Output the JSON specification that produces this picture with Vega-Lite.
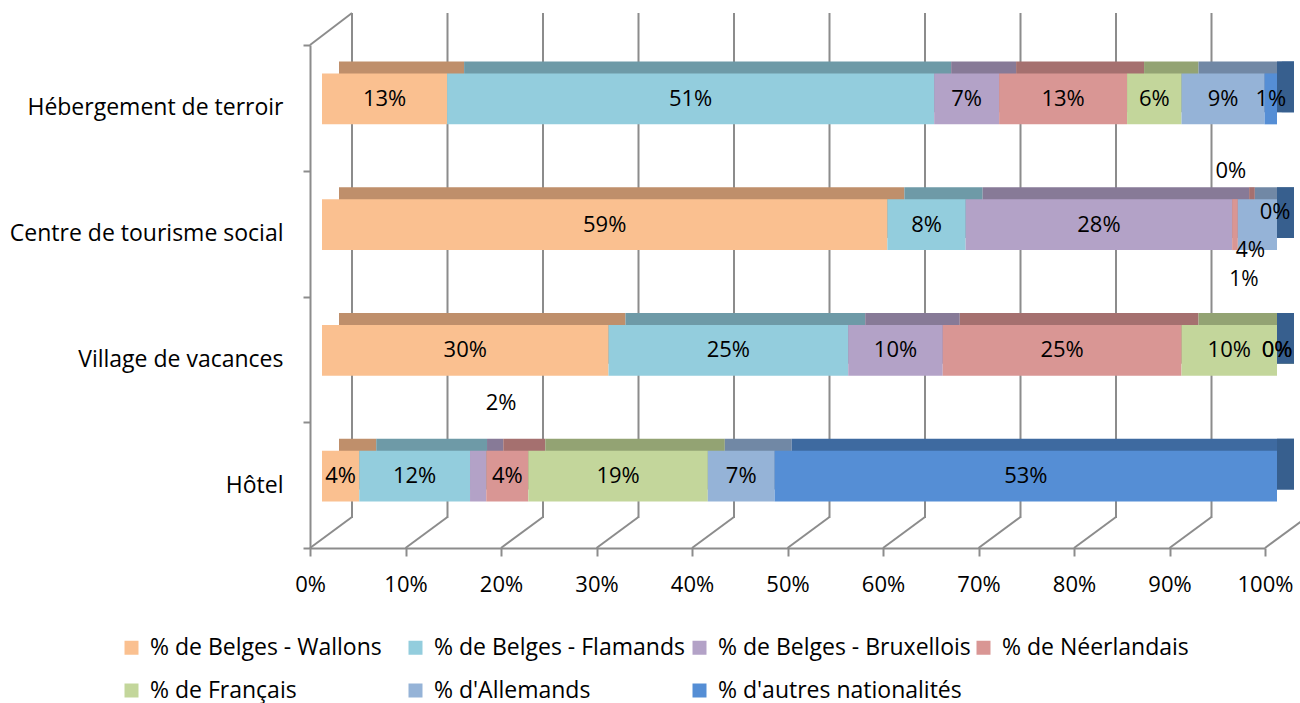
{
  "$schema": "https://vega.github.io/schema/vega-lite/v6.json",
  "width": 955,
  "height": 503,
  "autosize": {"type": "none"},
  "padding": {"left": 310, "top": 45, "right": 35, "bottom": 155},
  "background": "white",
  "config": {
    "view": {"stroke": null},
    "font": "Open Sans",
    "text": {"font": "Open Sans"},
    "axisX": {"domainColor": "#8C8C8C", "domainWidth": 2, "tickColor": "#8C8C8C", "tickWidth": 2, "tickSize": 8, "labelFontSize": 22, "labelFont": "Open Sans", "labelColor": "black", "labelPadding": 18, "labelFlush": false, "grid": false},
    "axisY": {"domainColor": "#8C8C8C", "domainWidth": 2, "tickColor": "#8C8C8C", "tickWidth": 2, "tickSize": 7, "labelFontSize": 23, "labelFont": "Open Sans", "labelColor": "black", "labelPadding": 20, "labelLimit": 400, "grid": false, "tickBand": "extent"}
  },
  "datasets": {
    "shares": [
      {"cat": "Hébergement de terroir", "serie": "% de Belges - Wallons", "k": 1, "v": 0.131},
      {"cat": "Hébergement de terroir", "serie": "% de Belges - Flamands", "k": 2, "v": 0.510},
      {"cat": "Hébergement de terroir", "serie": "% de Belges - Bruxellois", "k": 3, "v": 0.068},
      {"cat": "Hébergement de terroir", "serie": "% de Néerlandais", "k": 4, "v": 0.134},
      {"cat": "Hébergement de terroir", "serie": "% de Français", "k": 5, "v": 0.057},
      {"cat": "Hébergement de terroir", "serie": "% d'Allemands", "k": 6, "v": 0.087},
      {"cat": "Hébergement de terroir", "serie": "% d'autres nationalités", "k": 7, "v": 0.013},
      {"cat": "Centre de tourisme social", "serie": "% de Belges - Wallons", "k": 1, "v": 0.592},
      {"cat": "Centre de tourisme social", "serie": "% de Belges - Flamands", "k": 2, "v": 0.082},
      {"cat": "Centre de tourisme social", "serie": "% de Belges - Bruxellois", "k": 3, "v": 0.279},
      {"cat": "Centre de tourisme social", "serie": "% de Néerlandais", "k": 4, "v": 0.006},
      {"cat": "Centre de tourisme social", "serie": "% de Français", "k": 5, "v": 0.0},
      {"cat": "Centre de tourisme social", "serie": "% d'Allemands", "k": 6, "v": 0.041},
      {"cat": "Centre de tourisme social", "serie": "% d'autres nationalités", "k": 7, "v": 0.0},
      {"cat": "Village de vacances", "serie": "% de Belges - Wallons", "k": 1, "v": 0.300},
      {"cat": "Village de vacances", "serie": "% de Belges - Flamands", "k": 2, "v": 0.251},
      {"cat": "Village de vacances", "serie": "% de Belges - Bruxellois", "k": 3, "v": 0.099},
      {"cat": "Village de vacances", "serie": "% de Néerlandais", "k": 4, "v": 0.250},
      {"cat": "Village de vacances", "serie": "% de Français", "k": 5, "v": 0.100},
      {"cat": "Village de vacances", "serie": "% d'Allemands", "k": 6, "v": 0.0},
      {"cat": "Village de vacances", "serie": "% d'autres nationalités", "k": 7, "v": 0.0},
      {"cat": "Hôtel", "serie": "% de Belges - Wallons", "k": 1, "v": 0.039},
      {"cat": "Hôtel", "serie": "% de Belges - Flamands", "k": 2, "v": 0.116},
      {"cat": "Hôtel", "serie": "% de Belges - Bruxellois", "k": 3, "v": 0.017},
      {"cat": "Hôtel", "serie": "% de Néerlandais", "k": 4, "v": 0.044},
      {"cat": "Hôtel", "serie": "% de Français", "k": 5, "v": 0.188},
      {"cat": "Hôtel", "serie": "% d'Allemands", "k": 6, "v": 0.070},
      {"cat": "Hôtel", "serie": "% d'autres nationalités", "k": 7, "v": 0.526}
    ],
    "grid": [
      {"g": 0}, {"g": 0.1}, {"g": 0.2}, {"g": 0.3}, {"g": 0.4}, {"g": 0.5},
      {"g": 0.6}, {"g": 0.7}, {"g": 0.8}, {"g": 0.9}, {"g": 1}
    ]
  },
  "resolve": {"scale": {"y": "independent"}},
  "layer": [
    {
      "data": {"name": "grid"},
      "layer": [
        {
          "mark": {"type": "rule", "color": "#8C8C8C", "strokeWidth": 2, "xOffset": 42, "yOffset": -30, "y2Offset": -32},
          "encoding": {
            "x": {"field": "g", "type": "quantitative", "title": null, "axis": {"format": ".0%", "values": [0, 0.1, 0.2, 0.3, 0.4, 0.5, 0.6, 0.7, 0.8, 0.9, 1]}},
            "y": {"datum": 0, "type": "quantitative", "scale": {"domain": [0, 1]}, "axis": null},
            "y2": {"datum": 1}
          }
        },
        {
          "mark": {"type": "rule", "color": "#8C8C8C", "strokeWidth": 2, "x2Offset": 42, "y2Offset": -31},
          "encoding": {
            "x": {"field": "g", "type": "quantitative", "title": null, "axis": {"format": ".0%", "values": [0, 0.1, 0.2, 0.3, 0.4, 0.5, 0.6, 0.7, 0.8, 0.9, 1]}},
            "x2": {"field": "g"},
            "y": {"datum": 0, "type": "quantitative", "scale": {"domain": [0, 1]}, "axis": null},
            "y2": {"datum": 0}
          }
        },
        {
          "transform": [{"filter": "datum.g == 0"}],
          "mark": {"type": "rule", "color": "#8C8C8C", "strokeWidth": 2, "x2Offset": 42, "y2Offset": -32},
          "encoding": {
            "x": {"field": "g", "type": "quantitative", "title": null, "axis": {"format": ".0%", "values": [0, 0.1, 0.2, 0.3, 0.4, 0.5, 0.6, 0.7, 0.8, 0.9, 1]}},
            "x2": {"field": "g"},
            "y": {"datum": 1, "type": "quantitative", "scale": {"domain": [0, 1]}, "axis": null},
            "y2": {"datum": 1}
          }
        }
      ]
    },
    {
      "data": {"name": "shares"},
      "transform": [
        {"stack": "v", "groupby": ["cat"], "sort": [{"field": "k", "order": "ascending"}], "offset": "normalize", "as": ["s0", "s1"]},
        {"calculate": "(datum.s0 + datum.s1) / 2", "as": "mid"}
      ],
      "encoding": {
        "y": {
          "field": "cat", "type": "nominal", "title": null,
          "scale": {"domain": ["Hébergement de terroir", "Centre de tourisme social", "Village de vacances", "Hôtel"], "paddingInner": 0, "paddingOuter": 0}
        }
      },
      "layer": [
        {
          "mark": {"type": "bar", "height": {"band": 0.405}, "xOffset": 29, "x2Offset": 29, "yOffset": -21, "y2Offset": -21},
          "encoding": {
            "x": {"field": "s0", "type": "quantitative", "title": null, "axis": {"format": ".0%", "values": [0, 0.1, 0.2, 0.3, 0.4, 0.5, 0.6, 0.7, 0.8, 0.9, 1]}},
            "x2": {"field": "s1"},
            "fill": {"field": "k", "type": "ordinal", "scale": {"domain": [1, 2, 3, 4, 5, 6, 7], "range": ["#BF8F6B", "#6E9AA7", "#877A97", "#A5706F", "#93A373", "#7188A5", "#3E6AA0"]}, "legend": null}
          }
        },
        {
          "transform": [{"filter": "datum.k == 7"}],
          "mark": {"type": "bar", "height": {"band": 0.405}, "xOffset": 12, "x2Offset": 29, "yOffset": -21, "y2Offset": -21, "fill": "#375F8E"},
          "encoding": {
            "x": {"field": "s1", "type": "quantitative", "title": null, "axis": {"format": ".0%", "values": [0, 0.1, 0.2, 0.3, 0.4, 0.5, 0.6, 0.7, 0.8, 0.9, 1]}},
            "x2": {"field": "s1"}
          }
        },
        {
          "mark": {"type": "bar", "height": {"band": 0.405}, "xOffset": 12, "x2Offset": 12, "yOffset": -9, "y2Offset": -9},
          "encoding": {
            "x": {"field": "s0", "type": "quantitative", "title": null, "axis": {"format": ".0%", "values": [0, 0.1, 0.2, 0.3, 0.4, 0.5, 0.6, 0.7, 0.8, 0.9, 1]}},
            "x2": {"field": "s1"},
            "color": {
              "field": "serie", "type": "nominal",
              "scale": {"domain": ["% de Belges - Wallons", "% de Belges - Flamands", "% de Belges - Bruxellois", "% de Néerlandais", "% de Français", "% d'Allemands", "% d'autres nationalités"], "range": ["#FAC090", "#93CDDD", "#B3A2C7", "#D99694", "#C3D69B", "#95B3D7", "#558ED5"]},
              "legend": {"title": null, "orient": "none", "legendX": -190, "legendY": 591, "columns": 4, "direction": "horizontal", "gridAlign": "all", "symbolType": "square", "symbolSize": 196, "symbolStrokeWidth": 0, "labelFontSize": 23, "labelFont": "Open Sans", "labelColor": "black", "labelOffset": 7, "labelLimit": 400, "columnPadding": 1, "rowPadding": 19, "padding": 0}
            }
          }
        },
        {
          "transform": [{"filter": "!((datum.cat == 'Hôtel' && datum.k == 3) || (datum.cat == 'Centre de tourisme social' && datum.k >= 4))"}],
          "mark": {"type": "text", "xOffset": 12, "yOffset": -9, "fontSize": 22, "color": "black", "align": "center", "baseline": "middle"},
          "encoding": {
            "x": {"field": "mid", "type": "quantitative", "title": null, "axis": {"format": ".0%", "values": [0, 0.1, 0.2, 0.3, 0.4, 0.5, 0.6, 0.7, 0.8, 0.9, 1]}},
            "text": {"field": "v", "type": "quantitative", "format": ".0%"}
          }
        },
        {
          "transform": [{"filter": "datum.cat == 'Hôtel' && datum.k == 3"}],
          "mark": {"type": "text", "xOffset": 12, "yOffset": -9, "dx": 23, "dy": -73, "fontSize": 22, "color": "black", "align": "center", "baseline": "middle"},
          "encoding": {
            "x": {"field": "mid", "type": "quantitative", "title": null, "axis": {"format": ".0%", "values": [0, 0.1, 0.2, 0.3, 0.4, 0.5, 0.6, 0.7, 0.8, 0.9, 1]}},
            "text": {"field": "v", "type": "quantitative", "format": ".0%"}
          }
        },
        {
          "transform": [{"filter": "datum.cat == 'Centre de tourisme social' && datum.k == 5"}],
          "mark": {"type": "text", "xOffset": 12, "yOffset": -9, "dx": -7, "dy": -54, "fontSize": 22, "color": "black", "align": "center", "baseline": "middle"},
          "encoding": {
            "x": {"field": "mid", "type": "quantitative", "title": null, "axis": {"format": ".0%", "values": [0, 0.1, 0.2, 0.3, 0.4, 0.5, 0.6, 0.7, 0.8, 0.9, 1]}},
            "text": {"field": "v", "type": "quantitative", "format": ".0%"}
          }
        },
        {
          "transform": [{"filter": "datum.cat == 'Centre de tourisme social' && datum.k == 6"}],
          "mark": {"type": "text", "xOffset": 12, "yOffset": -9, "dx": -7, "dy": 26, "fontSize": 21, "color": "black", "align": "center", "baseline": "middle"},
          "encoding": {
            "x": {"field": "mid", "type": "quantitative", "title": null, "axis": {"format": ".0%", "values": [0, 0.1, 0.2, 0.3, 0.4, 0.5, 0.6, 0.7, 0.8, 0.9, 1]}},
            "text": {"field": "v", "type": "quantitative", "format": ".0%"}
          }
        },
        {
          "transform": [{"filter": "datum.cat == 'Centre de tourisme social' && datum.k == 4"}],
          "mark": {"type": "text", "xOffset": 12, "yOffset": -9, "dx": 9, "dy": 55, "fontSize": 21, "color": "black", "align": "center", "baseline": "middle"},
          "encoding": {
            "x": {"field": "mid", "type": "quantitative", "title": null, "axis": {"format": ".0%", "values": [0, 0.1, 0.2, 0.3, 0.4, 0.5, 0.6, 0.7, 0.8, 0.9, 1]}},
            "text": {"field": "v", "type": "quantitative", "format": ".0%"}
          }
        },
        {
          "transform": [{"filter": "datum.cat == 'Centre de tourisme social' && datum.k == 7"}],
          "mark": {"type": "text", "xOffset": 12, "yOffset": -9, "dx": -2, "dy": -13, "fontSize": 22, "color": "black", "align": "center", "baseline": "middle"},
          "encoding": {
            "x": {"field": "mid", "type": "quantitative", "title": null, "axis": {"format": ".0%", "values": [0, 0.1, 0.2, 0.3, 0.4, 0.5, 0.6, 0.7, 0.8, 0.9, 1]}},
            "text": {"field": "v", "type": "quantitative", "format": ".0%"}
          }
        }
      ]
    }
  ]
}
